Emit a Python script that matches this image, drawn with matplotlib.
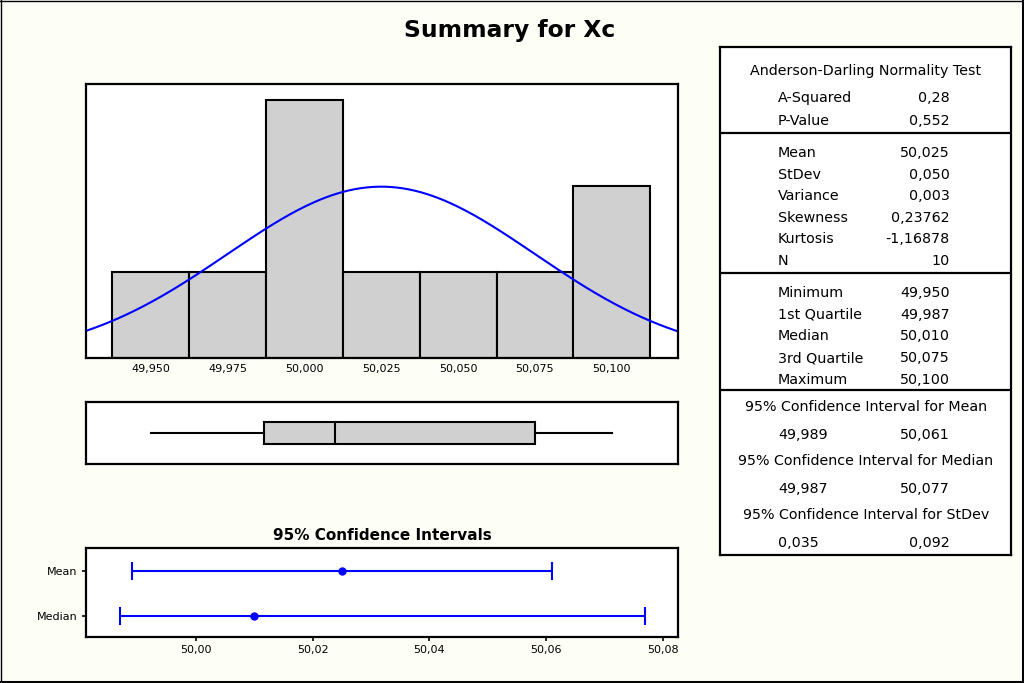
import numpy as np
import matplotlib
matplotlib.use('Agg')
import matplotlib.pyplot as plt
from matplotlib.lines import Line2D

# histogram of Xc
bin_centers = [49.950, 49.975, 50.000, 50.025, 50.050, 50.075, 50.100]
counts = [1, 1, 3, 1, 1, 1, 2]
bin_width = 0.025

# summary numbers
mean_xc = 50.025
stdev_xc = 0.050
n_xc = 10
five_num = [49.950, 49.987, 50.010, 50.075, 50.100]

# confidence intervals
ci_names = ['Median', 'Mean']
ci_centers = [50.010, 50.025]
ci_low = [49.987, 49.989]
ci_high = [50.077, 50.061]
ci_ticks = [50.00, 50.02, 50.04, 50.06, 50.08]

# table text
ad_labels = ['A-Squared', 'P-Value']
ad_values = ['0,28', '0,552']
moment_labels = ['Mean', 'StDev', 'Variance', 'Skewness', 'Kurtosis', 'N']
moment_values = ['50,025', '0,050', '0,003', '0,23762', '-1,16878', '10']
quart_labels = ['Minimum', '1st Quartile', 'Median', '3rd Quartile', 'Maximum']
quart_values = ['49,950', '49,987', '50,010', '50,075', '50,100']
ci_titles = ['95% Confidence Interval for Mean',
             '95% Confidence Interval for Median',
             '95% Confidence Interval for StDev']
ci_table_low = ['49,989', '49,987', '0,035']
ci_table_high = ['50,061', '50,077', '0,092']

BG = '#fdfef6'
GRAY = '#d0d0d0'
BLUE = '#0000ff'
W, H = 1024, 683


def comma(v, nd):
    return f'{v:.{nd}f}'.replace('.', ',')


def px_axes(left, top, right, bottom):
    """axes rectangle given in pixel coordinates of the picture"""
    return [left / W, 1 - bottom / H, (right - left) / W, (bottom - top) / H]


def frame(ax, lw=1.6):
    for s in ax.spines.values():
        s.set_linewidth(lw)
        s.set_color('black')


fig = plt.figure(figsize=(W / 100, H / 100), dpi=100, facecolor=BG)

fig.text(510 / W, 1 - 31 / H, 'Summary for Xc', ha='center', va='center',
         fontsize=16.8, fontweight='bold')

# --- histogram with normal fit ---
xmin, xmax = 49.929, 50.1215
ax = fig.add_axes(px_axes(86, 84, 678, 358))
ax.bar(bin_centers, counts, width=bin_width, color=GRAY,
       edgecolor='black', linewidth=1.5)
xs = np.linspace(xmin, xmax, 300)
pdf = np.exp(-0.5 * ((xs - mean_xc) / stdev_xc) ** 2) / (stdev_xc * np.sqrt(2 * np.pi))
ax.plot(xs, n_xc * bin_width * pdf, color=BLUE, lw=1.5)
ax.set_xlim(xmin, xmax)
ax.set_ylim(0, 3.19)
ax.set_xticks(bin_centers)
ax.set_xticklabels([comma(v, 3) for v in bin_centers], fontsize=8)
ax.tick_params(axis='x', length=0, pad=4)
ax.set_yticks([])
frame(ax)

# --- box plot ---
axb = fig.add_axes(px_axes(86, 402, 678, 464))
stats = [dict(whislo=five_num[0], q1=five_num[1], med=five_num[2],
              q3=five_num[3], whishi=five_num[4], fliers=[])]
axb.bxp(stats, positions=[1], widths=0.36, vert=False, showcaps=False,
        patch_artist=True,
        boxprops=dict(facecolor=GRAY, edgecolor='black', linewidth=1.5),
        medianprops=dict(color='black', linewidth=1.5),
        whiskerprops=dict(color='black', linewidth=1.5))
axb.set_xlim(xmin, xmax)
axb.set_ylim(0.5, 1.5)
axb.set_xticks([])
axb.set_yticks([])
frame(axb)

# --- confidence intervals ---
axc = fig.add_axes(px_axes(86, 548, 678, 637))
ypos = np.arange(len(ci_names))
err = [np.subtract(ci_centers, ci_low), np.subtract(ci_high, ci_centers)]
axc.errorbar(ci_centers, ypos, xerr=err, fmt='o', color=BLUE, ms=5,
             elinewidth=1.5, capsize=6.5, capthick=1.5)
axc.set_xlim(49.9812, 50.0826)
axc.set_ylim(-0.48, 1.52)
axc.set_yticks(ypos)
axc.set_yticklabels(ci_names, fontsize=8)
axc.set_xticks(ci_ticks)
axc.set_xticklabels([comma(v, 2) for v in ci_ticks], fontsize=8)
axc.tick_params(length=3, width=1.2, pad=3)
frame(axc)
fig.text(382 / W, 1 - 535 / H, '95% Confidence Intervals', ha='center',
         va='center', fontsize=11, fontweight='bold')

# --- statistics table ---
axt = fig.add_axes(px_axes(720, 47, 1011, 555))
axt.set_xlim(720, 1011)
axt.set_ylim(555, 47)
axt.set_xticks([])
axt.set_yticks([])
frame(axt)
for y in [133, 273, 390]:
    axt.axhline(y, color='black', lw=1.6)

fs = 10.3
lab_x, val_x, mid_x = 778, 950, 866
axt.text(mid_x, 71, 'Anderson-Darling Normality Test', ha='center',
         va='center', fontsize=fs)
for i, (l, v) in enumerate(zip(ad_labels, ad_values)):
    axt.text(lab_x, 98 + 23 * i, l, va='center', fontsize=fs)
    axt.text(val_x, 98 + 23 * i, v, va='center', ha='right', fontsize=fs)
for i, (l, v) in enumerate(zip(moment_labels, moment_values)):
    axt.text(lab_x, 153 + 21.6 * i, l, va='center', fontsize=fs)
    axt.text(val_x, 153 + 21.6 * i, v, va='center', ha='right', fontsize=fs)
for i, (l, v) in enumerate(zip(quart_labels, quart_values)):
    axt.text(lab_x, 293 + 21.75 * i, l, va='center', fontsize=fs)
    axt.text(val_x, 293 + 21.75 * i, v, va='center', ha='right', fontsize=fs)
for i, (t, lo, hi) in enumerate(zip(ci_titles, ci_table_low, ci_table_high)):
    y0 = 407 + 54 * i
    axt.text(mid_x, y0, t, ha='center', va='center', fontsize=fs)
    axt.text(lab_x, y0 + 28, lo, va='center', fontsize=fs)
    axt.text(val_x, y0 + 28, hi, va='center', ha='right', fontsize=fs)

# picture frame: thin top/left, heavy right/bottom
fig.add_artist(Line2D([0.5 / W, 0.5 / W], [0, 1], color='black', lw=1,
                      transform=fig.transFigure))
fig.add_artist(Line2D([0, 1], [1 - 0.5 / H, 1 - 0.5 / H], color='black', lw=1,
                      transform=fig.transFigure))
fig.add_artist(Line2D([1 - 1.5 / W, 1 - 1.5 / W], [0, 1], color='black', lw=2.2,
                      transform=fig.transFigure))
fig.add_artist(Line2D([0, 1], [1.5 / H, 1.5 / H], color='black', lw=2.2,
                      transform=fig.transFigure))

fig.savefig('out.png', dpi=100, facecolor=BG)
